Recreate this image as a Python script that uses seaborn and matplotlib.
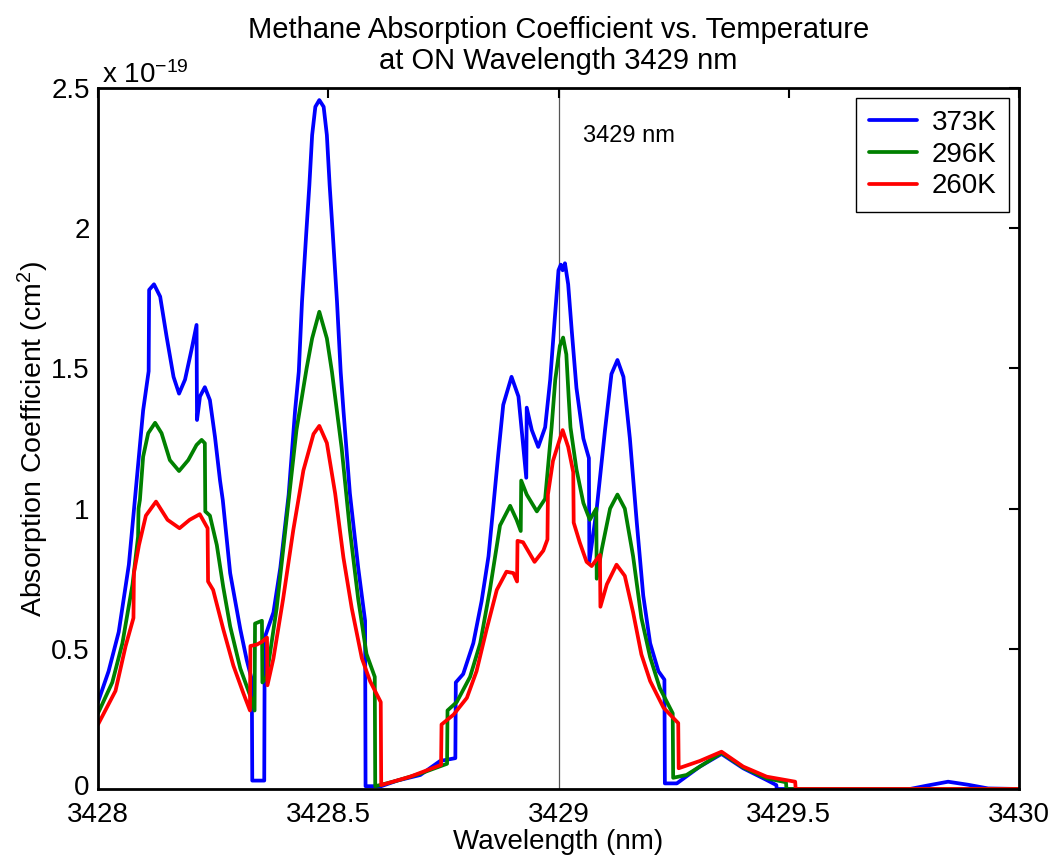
import numpy as np
import pandas as pd
import matplotlib
matplotlib.use("Agg")
import matplotlib.pyplot as plt
import matplotlib.transforms as mtransforms
import seaborn as sns

# ---------------- data (absorption coefficient in units of 1e-19 cm^2) ----------------
wl_373 = [3428.000, 3428.023, 3428.045, 3428.067, 3428.080, 3428.098, 3428.110, 3428.111, 3428.1216,
          3428.135, 3428.149, 3428.164, 3428.176, 3428.189, 3428.203, 3428.214, 3428.215, 3428.2215,
          3428.232, 3428.243, 3428.254, 3428.265, 3428.271, 3428.287, 3428.309, 3428.323, 3428.334,
          3428.335, 3428.361, 3428.362, 3428.381, 3428.396, 3428.414, 3428.428, 3428.436, 3428.443,
          3428.452, 3428.459, 3428.465, 3428.472, 3428.4806, 3428.490, 3428.497, 3428.503, 3428.510,
          3428.519, 3428.527, 3428.533, 3428.547, 3428.565, 3428.580, 3428.581, 3428.615, 3428.650,
          3428.700, 3428.743, 3428.776, 3428.777, 3428.793, 3428.815, 3428.833, 3428.848, 3428.858,
          3428.869, 3428.880, 3428.898, 3428.913, 3428.930, 3428.931, 3428.942, 3428.956, 3428.971,
          3428.982, 3428.992, 3429.000, 3429.005, 3429.009, 3429.014, 3429.021, 3429.029, 3429.039,
          3429.054, 3429.066, 3429.067, 3429.083, 3429.101, 3429.115, 3429.128, 3429.141, 3429.155,
          3429.170, 3429.184, 3429.199, 3429.217, 3429.230, 3429.231, 3429.257, 3429.307, 3429.354,
          3429.401, 3429.452, 3429.473, 3429.474, 3429.763, 3429.800, 3429.846, 3429.890, 3429.933,
          3430.000]
ac_373 = [0.31, 0.42, 0.56, 0.80, 1.03, 1.35, 1.49, 1.78, 1.80,
          1.756, 1.613, 1.47, 1.41, 1.46, 1.566, 1.655, 1.316, 1.40,
          1.433, 1.387, 1.256, 1.10, 1.03, 0.77, 0.57, 0.46, 0.39,
          0.03, 0.03, 0.54, 0.63, 0.79, 1.05, 1.35, 1.488, 1.738,
          1.976, 2.154, 2.332, 2.433, 2.457, 2.433, 2.332, 2.154, 1.976,
          1.738, 1.488, 1.35, 1.054, 0.79, 0.60, 0.01, 0.01, 0.03,
          0.05, 0.10, 0.11, 0.38, 0.41, 0.52, 0.67, 0.83, 1.00,
          1.19, 1.37, 1.47, 1.40, 1.11, 1.36, 1.28, 1.22, 1.29,
          1.46, 1.68, 1.85, 1.87, 1.85, 1.875, 1.80, 1.63, 1.43,
          1.25, 1.18, 0.81, 1.00, 1.28, 1.48, 1.53, 1.47, 1.25,
          0.95, 0.69, 0.52, 0.42, 0.39, 0.02, 0.02, 0.08, 0.125,
          0.074, 0.032, 0.014, 0.0, 0.0, 0.012, 0.026, 0.015, 0.002,
          0.0]

wl_296 = [3428.000, 3428.031, 3428.053, 3428.075, 3428.087, 3428.088, 3428.091, 3428.098, 3428.109,
          3428.124, 3428.138, 3428.156, 3428.176, 3428.196, 3428.214, 3428.225, 3428.232, 3428.233,
          3428.243, 3428.258, 3428.272, 3428.287, 3428.309, 3428.331, 3428.340, 3428.341, 3428.356,
          3428.357, 3428.366, 3428.388, 3428.410, 3428.431, 3428.453, 3428.465, 3428.4806, 3428.497,
          3428.508, 3428.529, 3428.547, 3428.565, 3428.583, 3428.601, 3428.602, 3428.615, 3428.650,
          3428.700, 3428.758, 3428.759, 3428.779, 3428.808, 3428.830, 3428.851, 3428.873, 3428.884,
          3428.895, 3428.909, 3428.918, 3428.919, 3428.931, 3428.953, 3428.971, 3428.985, 3428.993,
          3429.003, 3429.010, 3429.017, 3429.022, 3429.026, 3429.039, 3429.054, 3429.068, 3429.082,
          3429.083, 3429.094, 3429.112, 3429.128, 3429.144, 3429.162, 3429.180, 3429.199, 3429.220,
          3429.248, 3429.249, 3429.278, 3429.307, 3429.354, 3429.401, 3429.452, 3429.494, 3429.495,
          3430.000]
ac_296 = [0.27, 0.38, 0.52, 0.73, 0.90, 1.00, 1.031, 1.185, 1.269,
          1.306, 1.269, 1.173, 1.134, 1.173, 1.227, 1.245, 1.233, 0.99,
          0.975, 0.87, 0.72, 0.58, 0.43, 0.33, 0.28, 0.59, 0.60,
          0.38, 0.40, 0.645, 0.97, 1.28, 1.50, 1.607, 1.702, 1.607,
          1.488, 1.217, 0.923, 0.678, 0.482, 0.40, 0.01, 0.015, 0.03,
          0.055, 0.09, 0.28, 0.31, 0.40, 0.52, 0.71, 0.94, 0.975,
          1.01, 0.96, 0.92, 1.10, 1.05, 0.99, 1.035, 1.29, 1.46,
          1.58, 1.61, 1.55, 1.40, 1.29, 1.14, 1.02, 0.96, 1.00,
          0.75, 0.855, 1.00, 1.05, 1.00, 0.83, 0.61, 0.47, 0.36,
          0.27, 0.04, 0.05, 0.08, 0.129, 0.077, 0.038, 0.024, 0.0,
          0.0]

wl_260 = [3428.000, 3428.038, 3428.060, 3428.077, 3428.078, 3428.089, 3428.104, 3428.126, 3428.151,
          3428.177, 3428.199, 3428.221, 3428.238, 3428.239, 3428.250, 3428.272, 3428.294, 3428.316,
          3428.330, 3428.331, 3428.345, 3428.356, 3428.367, 3428.368, 3428.381, 3428.402, 3428.424,
          3428.446, 3428.468, 3428.4806, 3428.497, 3428.515, 3428.533, 3428.551, 3428.573, 3428.591,
          3428.614, 3428.615, 3428.678, 3428.745, 3428.746, 3428.772, 3428.801, 3428.822, 3428.844,
          3428.866, 3428.887, 3428.902, 3428.910, 3428.911, 3428.923, 3428.948, 3428.967, 3428.976,
          3428.977, 3428.988, 3429.009, 3429.021, 3429.032, 3429.033, 3429.046, 3429.061, 3429.072,
          3429.090, 3429.091, 3429.105, 3429.126, 3429.144, 3429.162, 3429.180, 3429.199, 3429.228,
          3429.260, 3429.261, 3429.307, 3429.354, 3429.401, 3429.452, 3429.514, 3429.515, 3430.000]
ac_260 = [0.23, 0.35, 0.51, 0.61, 0.77, 0.87, 0.975, 1.025, 0.96,
          0.93, 0.96, 0.98, 0.93, 0.74, 0.71, 0.57, 0.44, 0.34,
          0.28, 0.51, 0.515, 0.525, 0.54, 0.37, 0.466, 0.678, 0.923,
          1.136, 1.266, 1.295, 1.234, 1.054, 0.825, 0.645, 0.466, 0.384,
          0.31, 0.014, 0.044, 0.086, 0.23, 0.265, 0.325, 0.42, 0.57,
          0.71, 0.775, 0.77, 0.74, 0.885, 0.88, 0.81, 0.85, 0.89,
          1.05, 1.17, 1.28, 1.22, 1.13, 0.95, 0.88, 0.81, 0.795,
          0.835, 0.65, 0.73, 0.80, 0.76, 0.63, 0.48, 0.385, 0.29,
          0.235, 0.074, 0.10, 0.133, 0.08, 0.044, 0.026, 0.0, 0.0]

temps = ["373K", "296K", "260K"]
colors = ["#0000ff", "#008000", "#ff0000"]
on_wavelength = 3429.0
x_ticks = [3428, 3428.5, 3429, 3429.5, 3430]
x_tick_labels = ["3428", "3428.5", "3429", "3429.5", "3430"]
y_ticks = [0, 0.5, 1, 1.5, 2, 2.5]
y_tick_labels = ["0", "0.5", "1", "1.5", "2", "2.5"]

frames = []
for t, wl, ac in [("373K", wl_373, ac_373), ("296K", wl_296, ac_296), ("260K", wl_260, ac_260)]:
    frames.append(pd.DataFrame({"Wavelength": wl, "Absorption": ac, "Temperature": t}))
df = pd.concat(frames, ignore_index=True)

# ---------------- plotting ----------------
sns.set_theme(style="white", rc={"text.color": "black", "axes.labelcolor": "black",
                                 "xtick.color": "black", "ytick.color": "black"})
plt.rcParams["font.family"] = ["Liberation Sans", "DejaVu Sans"]
plt.rcParams["mathtext.fontset"] = "custom"
plt.rcParams["mathtext.rm"] = "Liberation Sans"
plt.rcParams["mathtext.it"] = "Liberation Sans:italic"

fig = plt.figure(figsize=(10.53, 8.59), dpi=100)
ax = fig.add_axes([98 / 1053, (859 - 789) / 859, (1019 - 98) / 1053, (789 - 88) / 859])

sns.lineplot(data=df, x="Wavelength", y="Absorption", hue="Temperature",
             hue_order=temps, palette=colors, estimator=None, sort=False,
             linewidth=2.7, ax=ax, solid_joinstyle="round", solid_capstyle="round")

ax.axvline(on_wavelength, color="#555555", linewidth=0.9, zorder=0)
ax.text(3429.053, 2.33, "3429 nm", fontsize=17, ha="left", va="center", color="black")

ax.set_xlim(3428, 3430)
ax.set_ylim(0, 2.5)
ax.set_xticks(x_ticks)
ax.set_xticklabels(x_tick_labels)
ax.set_yticks(y_ticks)
ax.set_yticklabels(y_tick_labels)
ax.tick_params(direction="in", length=7, width=1.5, top=True, right=True,
               labelsize=20, colors="black")
ax.tick_params(axis="x", pad=9)
ax.tick_params(axis="y", pad=6)
# lift the "0" y tick label slightly so it does not collide with "3428"
zero_lbl = ax.get_yticklabels()[0]
zero_lbl.set_transform(zero_lbl.get_transform() +
                       mtransforms.ScaledTranslation(0, 3 / 72, fig.dpi_scale_trans))
for s in ax.spines.values():
    s.set_visible(True)
    s.set_color("black")
    s.set_linewidth(2)

ax.set_xlabel("Wavelength (nm)", fontsize=20, labelpad=1, color="black")
ax.set_ylabel("Absorption Coefficient (cm$^2$)", fontsize=20.5, labelpad=0, color="black")
ax.set_title("Methane Absorption Coefficient vs. Temperature\nat ON Wavelength 3429 nm",
             fontsize=21, pad=14, linespacing=1.1, color="black")
ax.text(0.004, 0.998, r"x 10$^{-19}$", transform=ax.transAxes, fontsize=20,
        ha="left", va="bottom", color="black")

leg = ax.legend(loc="upper right", fontsize=20, frameon=True, fancybox=False,
                framealpha=1, edgecolor="black", handlelength=1.73,
                borderaxespad=0.35, labelspacing=0.2, handletextpad=0.55,
                borderpad=0.45)
leg.get_frame().set_linewidth(1.0)
for line in leg.get_lines():
    line.set_linewidth(2.7)

fig.savefig("out.png", dpi=100)
